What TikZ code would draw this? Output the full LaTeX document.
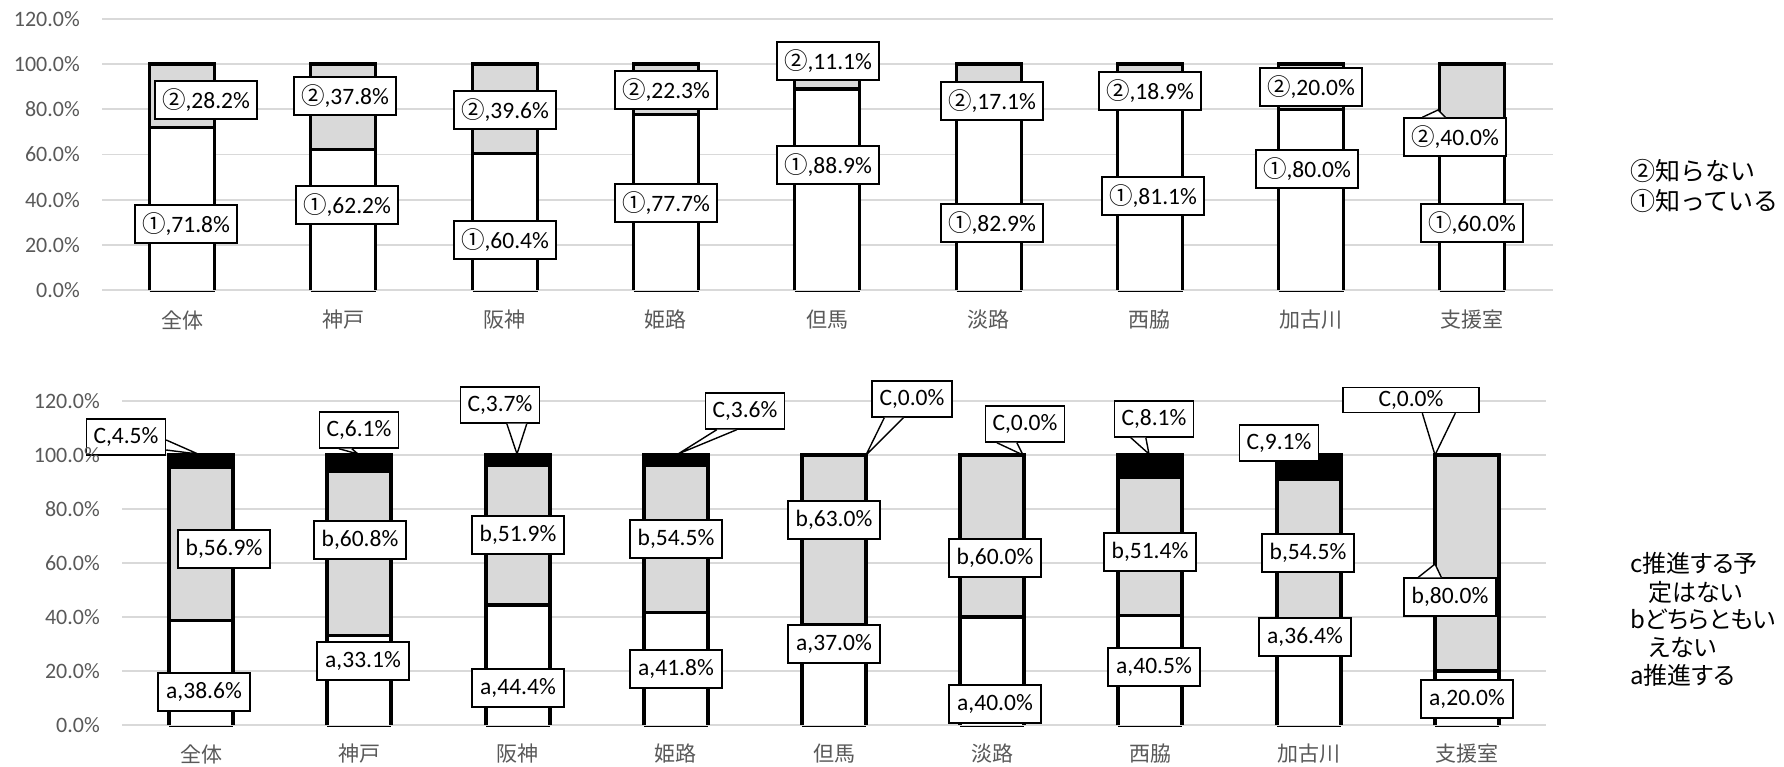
\documentclass[tikz,border=0pt]{standalone}
\usepackage{fontspec}
\setmainfont{Carlito}
\newfontfamily\jp{Noto Sans CJK JP}
\newfontfamily\jpp[RawFeature=+palt]{Noto Sans CJK JP}
\usetikzlibrary{calc}
\definecolor{gridc}{HTML}{D9D9D9}
\definecolor{segg}{HTML}{D9D9D9}
\definecolor{axc}{HTML}{595959}
\tikzset{
  gridln/.style={draw=gridc,line width=1.8pt},
  barln/.style={draw=black,line width=3.3pt,line join=miter},
  baseln/.style={draw=black,line width=1pt},
  ticklab/.style={anchor=east,text=axc,inner sep=0pt,font=\fontsize{22}{26}\selectfont},
  catlab/.style={text=axc,inner sep=0pt,font=\jp\fontsize{21}{25}\selectfont},
  leglab/.style={anchor=west,inner sep=0pt,font=\jp\fontsize{25}{28}\selectfont},
  leglabB/.style={anchor=west,inner sep=0pt,font=\jpp\fontsize{24}{28}\selectfont},
  lab/.style={draw=black,fill=white,line width=1.4pt,inner sep=0pt,font=\fontsize{23.5}{26}\selectfont},
  labT/.style={lab,minimum width=102pt,minimum height=38pt},
  labB/.style={lab,minimum width=92pt,minimum height=38pt},
  labC/.style={lab,minimum width=79pt,minimum height=36pt},
  wedge/.style={draw=black,line width=1.4pt,line join=miter},
}
% top chart bar: centre x, value of (1)
\newcommand\TopBar[2]{%
  \pgfmathsetmacro\bxl{#1-32.5}\pgfmathsetmacro\bxr{#1+32.5}%
  \pgfmathsetmacro\bym{290-2.26*#2}%
  \fill[white] (\bxl,290) rectangle (\bxr,\bym);
  \fill[segg] (\bxl,\bym) rectangle (\bxr,64);
  \draw[barln] (\bxl,290) -- (\bxl,64) -- (\bxr,64) -- (\bxr,290);
  \draw[barln] (\bxl,\bym) -- (\bxr,\bym);
  \draw[baseln] (\bxl,291) -- (\bxr,291);
}
% bottom chart bar: centre x, a, b
\newcommand\BotBar[3]{%
  \pgfmathsetmacro\bxl{#1-32}\pgfmathsetmacro\bxr{#1+32}%
  \pgfmathsetmacro\bya{725-2.70*#2}%
  \pgfmathsetmacro\byb{725-2.70*(#2+#3)}%
  \fill[white] (\bxl,725) rectangle (\bxr,\bya);
  \fill[segg] (\bxl,\bya) rectangle (\bxr,\byb);
  \fill[black] (\bxl,\byb) rectangle (\bxr,455);
  \draw[barln] (\bxl,725) -- (\bxl,455) -- (\bxr,455) -- (\bxr,725);
  \draw[barln] (\bxl,\bya) -- (\bxr,\bya);
  \draw[barln] (\bxl,\byb) -- (\bxr,\byb);
  \draw[baseln] (\bxl,726) -- (\bxr,726);
}
\newcommand\Wedge[3]{% base point 1, tip, base point 2
  \fill[white] #1 -- #2 -- #3 -- cycle;
  \draw[wedge] #1 -- #2 -- #3;
}
\begin{document}
\begin{tikzpicture}[x=1pt,y=-1pt]
\path[use as bounding box,fill=white] (0,0) rectangle (1784,766);

% ---------- top chart grid ----------
\foreach \v in {0,20,...,120}{
  \draw[gridln] (102,{290-2.26*\v}) -- (1553,{290-2.26*\v});
}
% ---------- bottom chart grid ----------
\foreach \v in {0,20,...,120}{
  \draw[gridln] (122,{725-2.70*\v}) -- (1546,{725-2.70*\v});
}

% ---------- top bars ----------
\TopBar{182}{71.8}
\TopBar{343}{62.2}
\TopBar{505}{60.4}
\TopBar{666}{77.7}
\TopBar{827}{88.9}
\TopBar{989}{82.9}
\TopBar{1150}{81.1}
\TopBar{1311}{80.0}
\TopBar{1472}{60.0}

% ---------- bottom bars ----------
\BotBar{201}{38.6}{56.9}
\BotBar{359}{33.1}{60.8}
\BotBar{518}{44.4}{51.9}
\BotBar{676}{41.8}{54.5}
\BotBar{834}{37.0}{63.0}
\BotBar{992}{40.0}{60.0}
\BotBar{1150}{40.5}{51.4}
\BotBar{1309}{36.4}{54.5}
\BotBar{1467}{20.0}{80.0}

% ---------- top labels ----------
\node[labT] (t1b) at (206,100) {{\jp ②},28.2\%};
\node[labT] (t1a) at (186,224) {{\jp ①},71.8\%};
\node[labT] (t2b) at (345,96)  {{\jp ②},37.8\%};
\node[labT] (t2a) at (347,205) {{\jp ①},62.2\%};
\node[labT] (t3b) at (505,110) {{\jp ②},39.6\%};
\node[labT] (t3a) at (505,240) {{\jp ①},60.4\%};
\node[labT] (t4b) at (666,90)  {{\jp ②},22.3\%};
\node[labT] (t4a) at (666,203) {{\jp ①},77.7\%};
\node[labT] (t5b) at (828,61)  {{\jp ②},11.1\%};
\node[labT] (t5a) at (828,165) {{\jp ①},88.9\%};
\node[labT] (t6b) at (992,101) {{\jp ②},17.1\%};
\node[labT] (t6a) at (992,223) {{\jp ①},82.9\%};
\node[labT] (t7b) at (1150,91) {{\jp ②},18.9\%};
\node[labT] (t7a) at (1153,196) {{\jp ①},81.1\%};
\node[labT] (t8b) at (1311,87) {{\jp ②},20.0\%};
\node[labT] (t8a) at (1307,169) {{\jp ①},80.0\%};
\node[labT] (t9b) at (1455,137) {{\jp ②},40.0\%};
\node[labT] (t9a) at (1472,223) {{\jp ①},60.0\%};

% ---------- bottom labels ----------
\node[labC] (b1c) at (126,437) {C,4.5\%};
\node[labB] (b1b) at (224,549) {b,56.9\%};
\node[labB] (b1a) at (204,692) {a,38.6\%};
\node[labC] (b2c) at (359,430) {C,6.1\%};
\node[labB] (b2b) at (360,540) {b,60.8\%};
\node[labB] (b2a) at (363,661) {a,33.1\%};
\node[labC] (b3c) at (500,405) {C,3.7\%};
\node[labB] (b3b) at (518,535) {b,51.9\%};
\node[labB] (b3a) at (518,688) {a,44.4\%};
\node[labC] (b4c) at (745,411) {C,3.6\%};
\node[labB] (b4b) at (676,539) {b,54.5\%};
\node[labB] (b4a) at (676,669) {a,41.8\%};
\node[labC,minimum width=80pt] (b5c) at (912,399) {C,0.0\%};
\node[labB] (b5b) at (834,520) {b,63.0\%};
\node[labB] (b5a) at (834,644) {a,37.0\%};
\node[labC] (b6c) at (1025,424) {C,0.0\%};
\node[labB] (b6b) at (995,558) {b,60.0\%};
\node[labB] (b6a) at (995,704) {a,40.0\%};
\node[labC] (b7c) at (1154,419) {C,8.1\%};
\node[labB] (b7b) at (1150,552) {b,51.4\%};
\node[labB] (b7a) at (1154,667) {a,40.5\%};
\node[labC] (b8c) at (1279,443) {C,9.1\%};
\node[labB] (b8b) at (1308,553) {b,54.5\%};
\node[labB] (b8a) at (1305,637) {a,36.4\%};
\node[lab,minimum width=136pt,minimum height=25pt] (b9c) at (1411,400) {C,0.0\%};
\node[labB] (b9b) at (1450,597) {b,80.0\%};
\node[labB] (b9a) at (1467,699) {a,20.0\%};

% ---------- callout pointers ----------
\coordinate (tipT9) at (1438,110);
\coordinate (tipB1) at (198,454);
\coordinate (tipB2) at (358,454);
\coordinate (tipB3) at (517,454);
\coordinate (tipB4) at (678,454);
\coordinate (tipB5) at (866,455);
\coordinate (tipB6) at (1023,455);
\coordinate (tipB7) at (1149,454);
\coordinate (tipB9) at (1435,455);
\coordinate (tipB9b) at (1435,564);

\Wedge{($(t9b.north west)+(19,0)$)}{(tipT9)}{($(t9b.north west)+(42,0)$)}
\Wedge{($(b1c.east)+(0,3)$)}{(tipB1)}{($(b1c.east)+(0,13)$)}
\Wedge{($(b2c.south west)+(20,0)$)}{(tipB2)}{($(b2c.south west)+(33,0)$)}
\Wedge{($(b3c.south west)+(47,0)$)}{(tipB3)}{($(b3c.south west)+(67,0)$)}
\Wedge{($(b4c.south west)+(12,0)$)}{(tipB4)}{($(b4c.south west)+(32,0)$)}
\Wedge{($(b5c.south west)+(13,0)$)}{(tipB5)}{($(b5c.south west)+(32,0)$)}
\Wedge{($(b6c.south west)+(12,0)$)}{(tipB6)}{($(b6c.south west)+(32,0)$)}
\Wedge{($(b7c.south west)+(17,0)$)}{(tipB7)}{($(b7c.south west)+(32,0)$)}
\Wedge{($(b9c.south west)+(80,0)$)}{(tipB9)}{($(b9c.south west)+(113,0)$)}
\Wedge{($(b9b.north west)+(15,0)$)}{(tipB9b)}{($(b9b.north west)+(38,0)$)}

% ---------- axis tick labels ----------
\foreach \v/\n in {0/0.0,20/20.0,40/40.0,60/60.0,80/80.0,100/100.0,120/120.0}{
  \node[ticklab] (ta\v) at (80,{290-2.26*\v}) {\n\%};
  \node[ticklab] (ba\v) at (100,{725-2.70*\v}) {\n\%};
}

% ---------- category labels ----------
\foreach \i/\c in {0/全体,1/神戸,2/阪神,3/姫路,4/但馬,5/淡路,6/西脇,7/加古川,8/支援室}{
  \node[catlab] (tc\i) at ({182+161.25*\i},320) {\c};
  \node[catlab] (bc\i) at ({201+158.25*\i},754) {\c};
}

% ---------- legends ----------
\node[leglab] (lt2) at (1630,171) {②知らない};
\node[leglab] (lt1) at (1630,201) {①知っている};
\node[leglabB] (lbc1) at (1630,563) {c推進する予};
\node[leglabB] (lbc2) at (1648,592) {定はない};
\node[leglabB] (lbb1) at (1630,620) {bどちらともい};
\node[leglabB] (lbb2) at (1648,647) {えない};
\node[leglabB] (lba) at (1630,675) {a推進する};
\end{tikzpicture}
\end{document}
